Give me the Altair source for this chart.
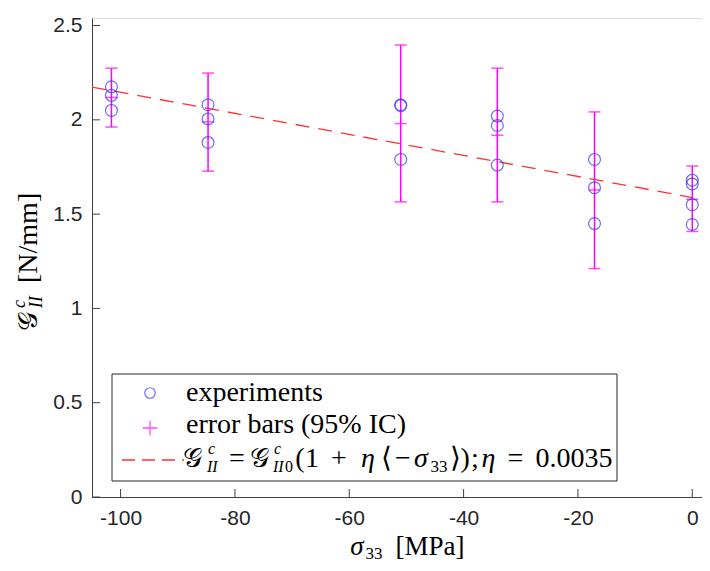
import altair as alt
import pandas as pd

# ---- data ----
group_x = [-101.6, -84.7, -51.0, -34.1, -17.1, 0.0]
exp_x = [-101.6, -101.6, -101.6,
         -84.7, -84.7, -84.7,
         -51.0, -51.0, -51.0,
         -34.1, -34.1, -34.1,
         -17.1, -17.1, -17.1,
         0.0, 0.0, 0.0, 0.0]
exp_y = [2.175, 2.13, 2.05,
         2.08, 2.005, 1.88,
         2.08, 2.075, 1.79,
         2.02, 1.97, 1.76,
         1.79, 1.64, 1.45,
         1.68, 1.66, 1.55, 1.445]
err_mean = [2.119, 1.989, 1.980, 1.918, 1.628, 1.579]
err_low = [1.962, 1.728, 1.565, 1.565, 1.211, 1.408]
err_high = [2.274, 2.248, 2.397, 2.274, 2.042, 1.755]
fit_x = [-105.0, 0.0]
fit_y = [2.174, 1.588]

x_ticks = [-100, -80, -60, -40, -20, 0]
y_ticks = [0, 0.5, 1, 1.5, 2, 2.5]
legend_labels = ["experiments", "error bars (95% IC)"]

W, H = 610, 479
BLUE = "#3030ff"
MAG = "#ff00ff"
RED = "#ff3030"
AX = "#404040"
SERIF = "Liberation Serif"
SANS = "Liberation Sans"

exp_df = pd.DataFrame({"x": exp_x, "y": exp_y})
err_df = pd.DataFrame({"x": group_x, "mean": err_mean, "lo": err_low, "hi": err_high})
fit_df = pd.DataFrame({"x": fit_x, "y": fit_y})
xt_df = pd.DataFrame({"v": x_ticks})
yt_df = pd.DataFrame({"v": y_ticks})
one = pd.DataFrame({"a": [0]})

xscale = alt.Scale(domain=[-105, 1.7], nice=False, zero=False)
yscale = alt.Scale(domain=[0, 2.54], nice=False, zero=False)

xaxis = alt.Axis(values=x_ticks, labelExpr="'' + datum.value", ticks=False, grid=False,
                 domainColor=AX, labelFont=SANS, labelFontSize=21,
                 labelColor="#262626", labelPadding=10, title="")
yaxis = alt.Axis(values=y_ticks, labelExpr="'' + datum.value", ticks=False, grid=False,
                 domainColor=AX, labelFont=SANS, labelFontSize=21,
                 labelColor="#262626", labelPadding=10, title="")

fit = alt.Chart(fit_df).mark_line(color=RED, strokeWidth=1.3, strokeDash=[14, 9]).encode(
    x=alt.X("x:Q", scale=xscale, axis=xaxis), y=alt.Y("y:Q", scale=yscale, axis=yaxis))

bars = alt.Chart(err_df).mark_rule(color=MAG, strokeWidth=1.5).encode(
    x=alt.X("x:Q", scale=xscale), y=alt.Y("lo:Q", scale=yscale), y2="hi:Q")
caps = []
for col in ["lo", "hi", "mean"]:
    caps.append(alt.Chart(err_df).mark_tick(color=MAG, orient="horizontal", size=12,
                                            thickness=1.5).encode(
        x=alt.X("x:Q", scale=xscale), y=alt.Y(f"{col}:Q", scale=yscale)))

pts = alt.Chart(exp_df).mark_point(shape="circle", filled=False, color=BLUE, size=140,
                                   strokeWidth=1.2).encode(
    x=alt.X("x:Q", scale=xscale), y=alt.Y("y:Q", scale=yscale))

xt = alt.Chart(xt_df).mark_rule(color=AX, strokeWidth=1).encode(
    x=alt.X("v:Q", scale=xscale), y=alt.value(H), y2=alt.value(H - 8))
yt = alt.Chart(yt_df).mark_rule(color=AX, strokeWidth=1).encode(
    y=alt.Y("v:Q", scale=yscale), x=alt.value(0), x2=alt.value(8))

# ---- legend (layout in pixels, relative to the plot area) ----
leg_box = alt.Chart(one).mark_rect(fill="white", stroke="#262626", strokeWidth=1).encode(
    x=alt.value(20), x2=alt.value(525), y=alt.value(356), y2=alt.value(463))
leg_c = alt.Chart(one).mark_point(shape="circle", filled=False, color=BLUE, size=110,
                                  strokeWidth=1.2).encode(x=alt.value(58), y=alt.value(375))
leg_p = alt.Chart(one).mark_point(shape="M-1,0H1M0,-1V1", filled=False, color=MAG, size=210,
                                  strokeWidth=1.3).encode(x=alt.value(58), y=alt.value(410))
leg_l = alt.Chart(one).mark_rule(color=RED, strokeWidth=1.3, strokeDash=[13, 7]).encode(
    x=alt.value(30), x2=alt.value(92), y=alt.value(442))

# text pieces: (text, x, y, size, italic, angle, align)  -- x,y relative to plot origin
B = 449     # formula baseline in legend
SUP, SUB = -13, 5
O = 92      # page x of plot origin
pieces = [
    (legend_labels[0], 94, 383, 28, False, 0, "left"),
    (legend_labels[1], 94, 415, 28, False, 0, "left"),
    ("𝒢", 192 - O, B, 27, False, 0, "center"),
    ("c", 208 - O, B + SUP, 16, True, 0, "left"),
    ("II", 207 - O, B + SUB, 16, True, 0, "left"),
    ("=", 237 - O, B, 28, False, 0, "center"),
    ("𝒢", 259 - O, B, 27, False, 0, "center"),
    ("c", 274 - O, B + SUP, 16, True, 0, "left"),
    ("II", 273 - O, B + SUB, 16, True, 0, "left"),
    ("0", 285 - O, B + SUB, 16, False, 0, "left"),
    ("(", 300 - O, B, 28, False, 0, "center"),
    ("1", 312 - O, B, 28, False, 0, "center"),
    ("+", 339 - O, B, 28, False, 0, "center"),
    ("η", 368 - O, B, 28, True, 0, "center"),
    ("⟨", 386.5 - O, B, 28, False, 0, "center"),
    ("−", 403 - O, B, 28, False, 0, "center"),
    ("σ", 421 - O, B, 28, True, 0, "center"),
    ("33", 439 - O, B + SUB, 17, False, 0, "center"),
    ("⟩)", 449.5 - O, B, 28, False, 0, "left"),
    (";", 475 - O, B, 28, False, 0, "center"),
    ("η", 488.5 - O, B, 28, True, 0, "center"),
    ("=", 515.5 - O, B, 28, False, 0, "center"),
    ("0.0035", 574 - O, B, 28, False, 0, "center"),
    # x-axis title
    ("σ", 357 - O, 537, 27, True, 0, "center"),
    ("33", 374 - O, 541, 17, False, 0, "center"),
    ("[MPa]", 430 - O, 537, 27, False, 0, "center"),
    # y-axis title (rotated, reads upward)
    ("𝒢", -55, 303, 27, False, 270, "center"),
    ("c", -67, 290, 18, True, 270, "left"),
    ("II", -50, 290, 18, True, 270, "left"),
    ("[N/mm]", -55, 265, 28, False, 270, "left"),
]
texts = []
for t, px, py, fs, it, ang, al in pieces:
    kw = dict(align=al, baseline="alphabetic", font=SERIF, fontSize=fs, color="black")
    if it:
        kw["fontStyle"] = "italic"
    if ang:
        kw["angle"] = ang
    texts.append(alt.Chart(one).mark_text(**kw).encode(
        x=alt.value(px), y=alt.value(py), text=alt.value(t)))

chart = alt.layer(fit, bars, *caps, pts, xt, yt,
                  leg_box, leg_c, leg_p, leg_l, *texts).properties(
    width=W, height=H,
    padding={"left": 84, "top": 10, "right": 0, "bottom": 66},
    autosize=alt.AutoSizeParams(type="none"),
).configure_view(stroke="transparent").configure(background="white")

chart.save("out.html", embed_options={"renderer": "svg", "actions": False})
